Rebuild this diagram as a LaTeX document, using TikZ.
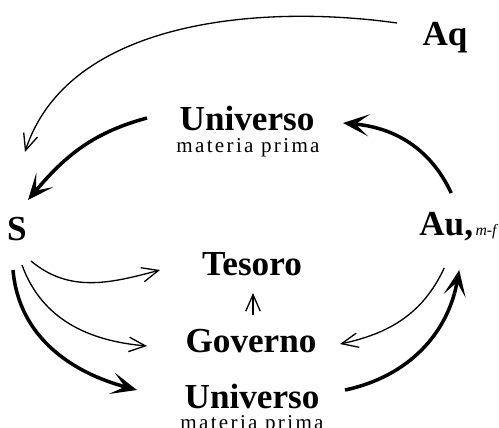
\documentclass[tikz,border=0pt]{standalone}
\usepackage{fontspec}
\setmainfont{Liberation Serif}
\usetikzlibrary{arrows.meta}

\begin{document}
\begin{tikzpicture}[x=0.02cm, y=0.02cm]
   \tikzstyle{lab} = [inner sep=0pt, anchor=base,
                      font=\fontsize{20}{22}\selectfont\bfseries];
   \tikzstyle{sub} = [inner sep=0pt, anchor=base,
                      font=\fontsize{12}{14}\selectfont\addfontfeatures{LetterSpace=11}];
   \tikzstyle{ar1} = [black, line width=0.75pt,
                      -{Straight Barb[length=3.3mm, width=2.9mm]}];
   \tikzstyle{ar2} = [black, line width=2pt,
                      -{Stealth[length=5.2mm, width=4.4mm, inset=2.7mm]}];

    \useasboundingbox (0,0) rectangle (499,-427);

    \node[lab] (aq) at (445,-45){Aq};
    \node[lab] (s) at (17,-240){S};
    \node[lab, anchor=base west] (au) at (419,-235){Au,};
    \node[lab, anchor=base west, xshift=1pt,
          font=\fontsize{9}{11}\selectfont\itshape] (mf) at (au.base east){m-f};

    \node[lab] (u1) at (247,-130){Universo};
    \node[sub] (p1) at (248,-152){materia prima};
    \node[lab] (tes) at (252,-275){Tesoro};
    \node[lab] (gov) at (251,-352){Governo};
    \node[lab] (u2) at (252,-408){Universo};
    \node[sub] (p2) at (252,-429){materia prima};

    % upper ring
    \path[ar1] ([shift={(-48,22)}]aq.base) edge
    [out=172, in=72, looseness=0.9] ([shift={(8,88)}]s.base);
    \path[ar2] ([shift={(-100,12)}]u1.base) edge
    [out=195, in=50] ([shift={(11,40)}]s.base);
    \path[ar2] ([shift={(5,42)}]au.base) edge
    [out=115, in=-5] ([shift={(96,7)}]u1.base);

    % from S
    \path[ar1] ([shift={(14,-21)}]s.base) edge
    [out=-40, in=195] ([shift={(-92,5)}]tes.base);
    \path[ar1] ([shift={(5,-25)}]s.base) edge
    [out=-70, in=175] ([shift={(-104,6)}]gov.base);
    \path[ar2] ([shift={(-4,-30)}]s.base) edge
    [out=-85, in=165] ([shift={(-115,18)}]u2.base);

    % lower ring
    \path[ar1] ([shift={(-2,-33)}]au.base) edge
    [out=245, in=12] ([shift={(89,8)}]gov.base);
    \path[ar2] ([shift={(93,18)}]u2.base) edge
    [out=12, in=-100] ([shift={(13,-35)}]au.base);

    \path[ar1] ([shift={(2,37)}]gov.base) edge ([shift={(1,-18)}]tes.base);

  \end{tikzpicture}
\end{document}
